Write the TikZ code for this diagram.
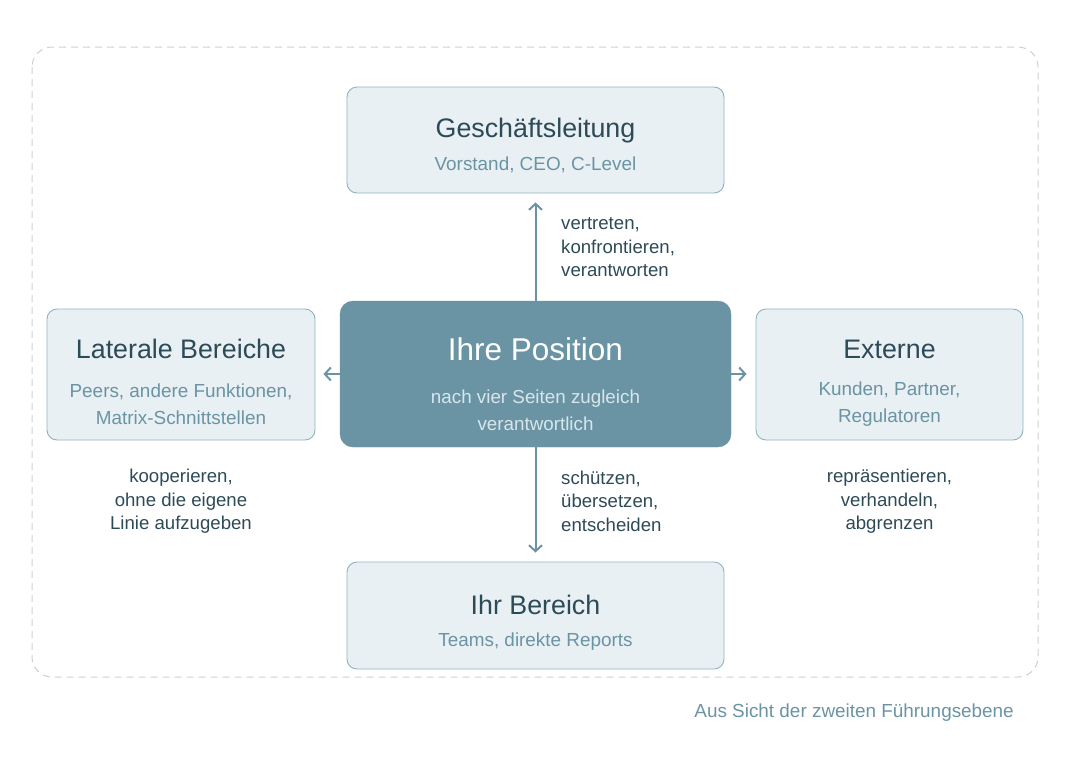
\documentclass[tikz,border=0pt]{standalone}
\usepackage{fontspec}
\setmainfont{Liberation Sans}
\usetikzlibrary{arrows.meta}
\definecolor{dark}{HTML}{2D4A57}
\definecolor{teal}{HTML}{6A94A4}
\definecolor{boxfill}{HTML}{E9F0F4}
\definecolor{boxline}{HTML}{8FB2BF}
\definecolor{centersub}{HTML}{D8E6EC}
\definecolor{frame}{HTML}{C9D1D5}
\tikzset{
  sidebox/.style={draw=boxline, fill=boxfill, line width=0.9pt, rounded corners=10pt, inner sep=0pt},
  centerbox/.style={draw=teal, fill=teal, rounded corners=13pt, inner sep=0pt},
  ttl/.style={text=dark, font=\fontsize{26.8}{30}\selectfont, inner sep=0pt, anchor=base},
  sub/.style={text=teal, font=\fontsize{18.9}{27}\selectfont, inner sep=0pt, align=center},
  lbl/.style={text=dark, font=\fontsize{18.6}{23.5}\selectfont, inner sep=0pt},
  arr/.style={draw=teal, line width=2pt, -{Straight Barb[length=6pt,width=13pt]}},
}
\begin{document}
\begin{tikzpicture}[x=1pt,y=-1pt]
\useasboundingbox (0,0) rectangle (1071,756);
\draw[frame, line width=1pt, dash pattern=on 7pt off 5pt, rounded corners=20pt] (32,47) rectangle (1038,677);

% boxes
\node[sidebox, minimum width=377pt, minimum height=106pt] (top) at (535.5,140) {};
\node[sidebox, minimum width=377pt, minimum height=107pt] (bottom) at (535.5,615.5) {};
\node[sidebox, minimum width=268pt, minimum height=131pt] (left) at (181,374.5) {};
\node[sidebox, minimum width=267pt, minimum height=131pt] (right) at (889.5,374.5) {};
\node[centerbox, minimum width=391pt, minimum height=146pt] (pos) at (535.5,374) {};

% texts
\node[ttl] (topt) at (535.5,137) {Geschäftsleitung};
\node[sub, anchor=base] (tops) at (535.5,170) {Vorstand, CEO, C-Level};
\node[ttl] (bott) at (535.5,614) {Ihr Bereich};
\node[sub, anchor=base] (bots) at (535.5,646) {Teams, direkte Reports};
\node[ttl] (leftt) at (181,358) {Laterale Bereiche};
\node[sub] (lefts) at (181,404.5) {Peers, andere Funktionen,\\Matrix-Schnittstellen};
\node[ttl] (rightt) at (889.5,358) {Externe};
\node[sub] (rights) at (889.5,404.5) {Kunden, Partner,\\Regulatoren};
\node[text=white, font=\fontsize{31.5}{36}\selectfont, inner sep=0pt, anchor=base] (post) at (535.5,360) {Ihre Position};
\node[text=centersub, font=\fontsize{18.8}{27}\selectfont, inner sep=0pt, align=center] (poss) at (535.5,410) {nach vier Seiten zugleich\\verantwortlich};

% arrows
\draw[arr, shorten >=9pt] (pos.north) -- (top.south);
\draw[arr, shorten >=9pt] (pos.south) -- (bottom.north);
\draw[arr, shorten >=8pt] (pos.west) -- (pos.west -| left.east);
\draw[arr, shorten >=9pt] (pos.east) -- (pos.east -| right.west);

% labels
\node[lbl, align=left, anchor=west] (upl) at (561,247.5) {vertreten,\\konfrontieren,\\verantworten};
\node[lbl, align=left, anchor=west] (downl) at (561,501) {schützen,\\übersetzen,\\entscheiden};
\node[lbl, align=center] (leftl) at (181,501.5) {kooperieren,\\ohne die eigene\\Linie aufzugeben};
\node[lbl, align=center] (rightl) at (889.5,501.5) {repräsentieren,\\verhandeln,\\abgrenzen};

\node[text=teal, font=\fontsize{18.9}{22}\selectfont, inner sep=0pt, anchor=base east] (cap) at (1014,717) {Aus Sicht der zweiten Führungsebene};
\end{tikzpicture}
\end{document}
